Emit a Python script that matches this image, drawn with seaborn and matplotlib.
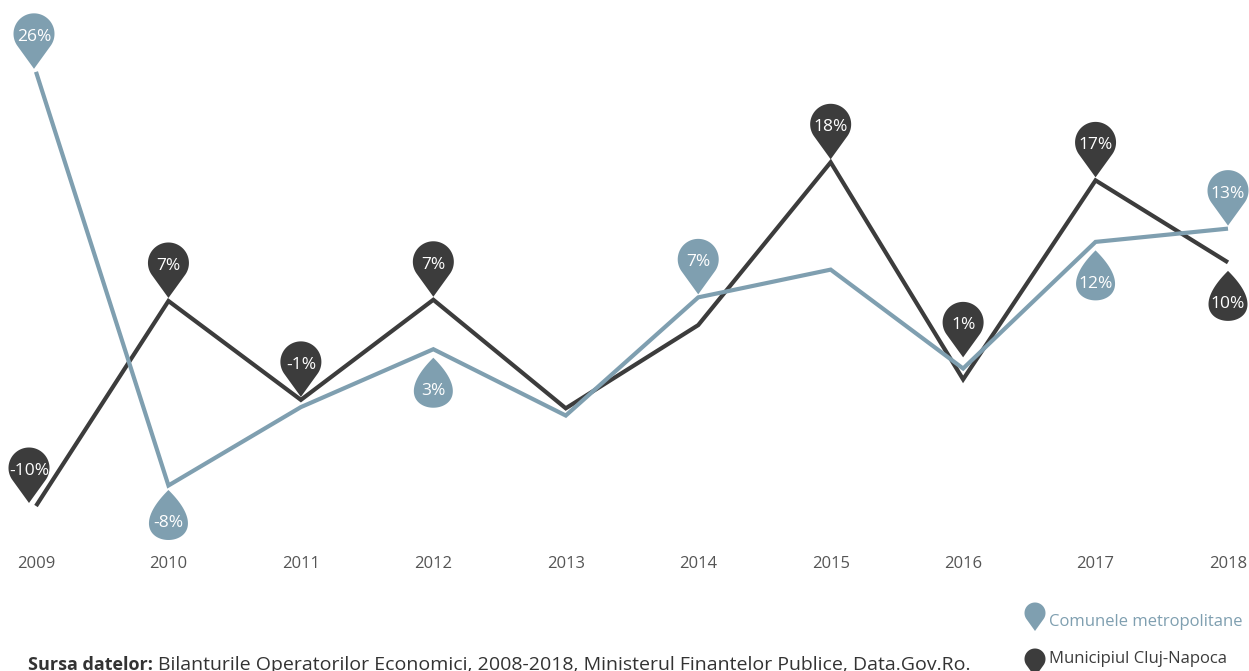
import numpy as np
import pandas as pd
import matplotlib
matplotlib.use('Agg')
import matplotlib.pyplot as plt
import seaborn as sns
from matplotlib.path import Path
from matplotlib.patches import PathPatch
from matplotlib.transforms import Affine2D, ScaledTranslation

# data
years = [2009, 2010, 2011, 2012, 2013, 2014, 2015, 2016, 2017, 2018]
comune = [26.0, -8.3, -1.8, 3.0, -2.5, 7.3, 9.6, 1.4, 11.9, 13.0]
cluj = [-10.0, 7.0, -1.2, 7.1, -1.9, 5.0, 18.5, 0.5, 17.0, 10.2]
comune_labels = ['26%', '-8%', None, '3%', None, '7%', None, None, '12%', '13%']
cluj_labels = ['-10%', '7%', '-1%', '7%', None, None, '18%', '1%', '17%', '10%']
comune_side = ['up', 'down', None, 'down', None, 'up', None, None, 'down', 'up']
cluj_side = ['up', 'up', 'up', 'up', None, None, 'up', 'up', 'up', 'down']

name_comune = 'Comunele metropolitane'
name_cluj = 'Municipiul Cluj-Napoca'
col_comune = '#7f9fb0'
col_cluj = '#3c3c3c'

sns.set_theme(style='white')
plt.rcParams['font.family'] = ['Open Sans', 'DejaVu Sans']

df = pd.DataFrame({
    'year': years * 2,
    'value': cluj + comune,
    'series': [name_cluj] * len(years) + [name_comune] * len(years),
})

W, H = 1249, 671
fig = plt.figure(figsize=(W / 100, H / 100), dpi=100)
ax = fig.add_axes([36 / W, (H - 530) / H, (1228 - 36) / W, 510 / H])

sns.lineplot(data=df, x='year', y='value', hue='series',
             hue_order=[name_cluj, name_comune],
             palette={name_cluj: col_cluj, name_comune: col_comune},
             linewidth=3, legend=False, ax=ax)
for ln in ax.lines:
    ln.set_clip_on(False)
    ln.set_solid_joinstyle('miter')
    ln.set_solid_capstyle('butt')

ax.set_xlim(2009, 2018)
ax.set_ylim(-(530 - 385.4) / 12.06, (385.4 - 20) / 12.06)
ax.set_xticks(years)
ax.set_xticklabels([str(y) for y in years], fontsize=12, color='#555555')
ax.tick_params(axis='x', length=0, pad=19)
ax.set_yticks([])
ax.set_xlabel('')
ax.set_ylabel('')
for s in ax.spines.values():
    s.set_visible(False)


def pin_path(r=20.5, d=35):
    # round head on top, tip pointing down at (0, -d)
    a = np.degrees(np.arccos(r / d))
    th = np.radians(np.linspace(-90 + a, 270 - a, 80))
    pts = np.column_stack([r * np.cos(th), r * np.sin(th)])
    pts = np.vstack([pts, [0, -d], pts[:1]])
    return Path(pts, closed=True)


def drop_path(r=19.5, h=50):
    # tip on top at (0, h - r), round bottom centred on (0, 0)
    t = np.linspace(0, 2 * np.pi, 120)
    x = r / 0.77 * np.sin(t) * np.sin(t / 2)
    y = (h - r) - (1 - np.cos(t)) / 2 * h
    return Path(np.column_stack([x, y]), closed=True)


PIN = pin_path()
DROP = drop_path()

# offsets (px) of the label centre from the point
up_off = {('cluj', 2016): 57}
down_off = {('comune', 2010): 35}
x_off = {('cluj', 2009): -7, ('comune', 2009): -2}


def add_pins(key, vals, labels, sides, color):
    for yr, v, lab, side in zip(years, vals, labels, sides):
        if lab is None:
            continue
        dx = x_off.get((key, yr), 0)
        if side == 'up':
            dy = up_off.get((key, yr), 38)
            shape = PIN
        else:
            dy = -down_off.get((key, yr), 39)
            shape = DROP
        tr = Affine2D().translate(dx, dy) + ScaledTranslation(yr, v, ax.transData)
        ax.add_patch(PathPatch(shape, transform=tr, facecolor=color,
                               edgecolor='none', zorder=5, clip_on=False))
        ax.annotate(lab, xy=(yr, v), xytext=(dx * 0.72, (dy - 1) * 0.72),
                    textcoords='offset points', ha='center', va='center_baseline',
                    color='white', fontsize=12.5, zorder=6, annotation_clip=False)


add_pins('cluj', cluj, cluj_labels, cluj_side, col_cluj)
add_pins('comune', comune, comune_labels, comune_side, col_comune)

# legend at bottom right
small_pin = pin_path(r=10.5, d=18)
for cy, ty, col, name in [(613, 622, col_comune, name_comune),
                          (659, 659, col_cluj, name_cluj)]:
    fig.add_artist(PathPatch(small_pin, transform=Affine2D().translate(1035, H - cy),
                             facecolor=col, edgecolor='none'))
    fig.text(1049 / W, 1 - ty / H, name, color=col, fontsize=12,
             ha='left', va='center')

# source line, cut off at the bottom edge like the original
t1 = fig.text(28 / W, 1.5 / H, 'Sursa datelor:', fontsize=13, weight='bold',
              color='#333333', va='baseline')
fig.canvas.draw()
bb = t1.get_window_extent()
fig.text((bb.x1 + 5) / W, 1.5 / H,
         'Bilanturile Operatorilor Economici, 2008-2018, Ministerul Finantelor Publice, Data.Gov.Ro.',
         fontsize=14, color='#333333', va='baseline')

fig.savefig('out.png', dpi=100)
